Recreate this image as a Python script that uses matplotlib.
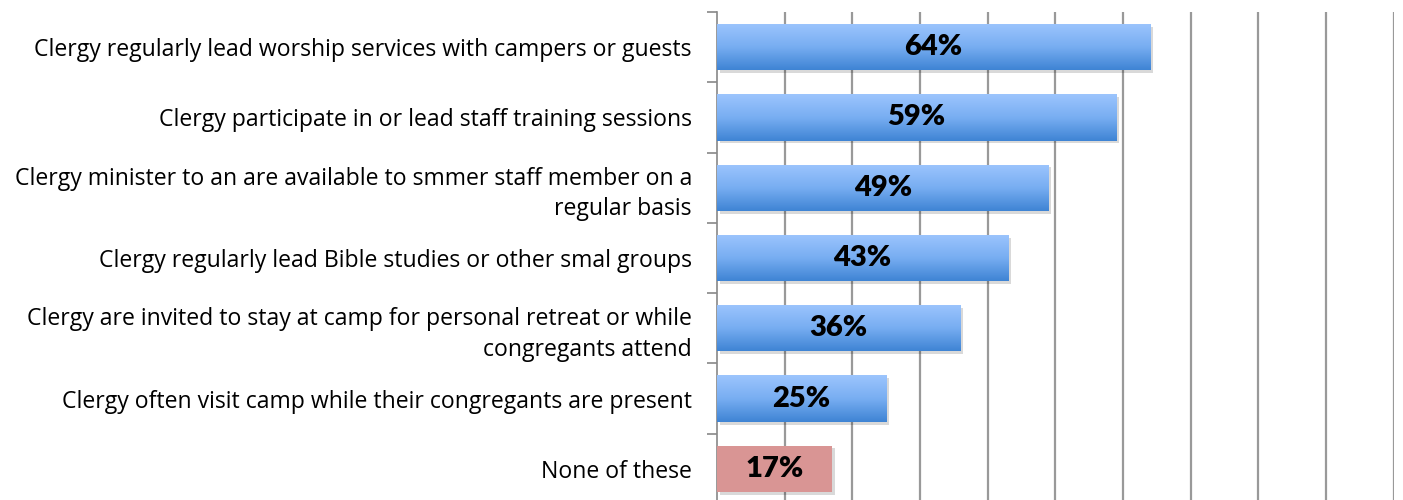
import numpy as np
import matplotlib
matplotlib.use("Agg")
import matplotlib.pyplot as plt
import matplotlib.patheffects as pe
from matplotlib.colors import LinearSegmentedColormap

plt.rcParams["font.family"] = ["Open Sans", "DejaVu Sans"]

categories = [
    "Clergy regularly lead worship services with campers or guests",
    "Clergy participate in or lead staff training sessions",
    "Clergy minister to an are available to smmer staff member on a\nregular basis",
    "Clergy regularly lead Bible studies or other smal groups",
    "Clergy are invited to stay at camp for personal retreat or while\ncongregants attend",
    "Clergy often visit camp while their congregants are present",
    "None of these",
]
values = [64, 59, 49, 43, 36, 25, 17]
highlight = [False, False, False, False, False, False, True]

blue_grad = LinearSegmentedColormap.from_list("bg", ["#3f84d4", "#78aef2", "#9cc5fd"])

fig = plt.figure(figsize=(14.03, 5.0), dpi=100)
ax = fig.add_axes([0.511, -0.008, 0.4825, 0.984])

n = len(categories)
y = np.arange(n)
bh = 0.66
shadow = [pe.SimplePatchShadow(offset=(2, -2), shadow_rgbFace="#000000", alpha=0.15), pe.Normal()]

for i, (v, hl) in enumerate(zip(values, highlight)):
    if hl:
        ax.barh(i, v, height=bh, color="#d99594", zorder=3, path_effects=shadow)
    else:
        b = ax.barh(i, v, height=bh, color="#78aef2", zorder=3, path_effects=shadow)[0]
        grad = np.linspace(0, 1, 100).reshape(-1, 1)
        im = ax.imshow(grad, cmap=blue_grad, aspect="auto",
                       extent=[0, v, i + bh / 2, i - bh / 2], origin="lower", zorder=4)
        im.set_clip_path(b)
    ax.text(v / 2, i, f"{v}%", ha="center", va="center", fontsize=21,
            fontweight="heavy", family=["Lato", "DejaVu Sans"], color="black", zorder=5)

ax.set_xlim(0, 100)
ax.set_ylim(n - 0.5, -0.5)
ax.set_xticks(np.arange(10, 101, 10))
ax.xaxis.grid(True, color="#999999", linewidth=1.6)
ax.set_axisbelow(True)
ax.tick_params(axis="x", bottom=False, labelbottom=False)

ax.set_yticks(y)
ax.set_yticklabels(categories, fontsize=16.6, ha="right", linespacing=1.35)
ax.set_yticks(np.arange(-0.5, n, 1), minor=True)
ax.tick_params(axis="y", which="major", length=0, pad=18)
ax.tick_params(axis="y", which="minor", length=7, width=1.2, color="#888888")

for s in ["top", "right", "bottom"]:
    ax.spines[s].set_visible(False)
ax.spines["left"].set_color("#888888")
ax.spines["left"].set_linewidth(1.2)

fig.savefig("out.png", dpi=100)
